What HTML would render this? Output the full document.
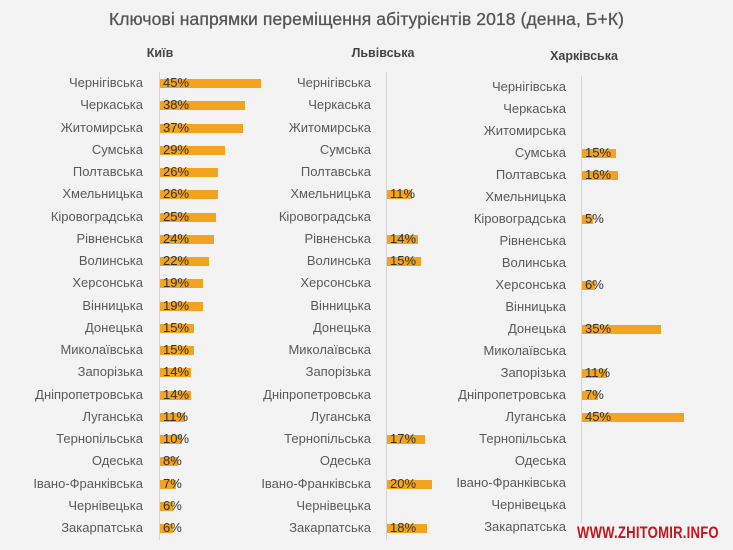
<!DOCTYPE html><html><head><meta charset="utf-8"><style>
body{margin:0;width:733px;height:550px;background:#f3f3f3;position:relative;overflow:hidden;font-family:"Liberation Sans","DejaVu Sans",sans-serif}
.t{position:absolute;left:0;width:733px;top:9px;text-align:center;font-size:17.5px;color:#555;letter-spacing:.1px;-webkit-text-stroke:.3px #555}
.h{position:absolute;font-size:12.5px;font-weight:bold;color:#444;transform:translateX(-50%)}
.r{position:absolute;left:0;height:22px;line-height:22px;font-size:13px;color:#5a5a5a;white-space:nowrap}
.l{position:absolute;right:0;text-align:right}
.b{position:absolute;top:7px;height:9px;background:#f2a31f}
.v{position:absolute;top:0;font-size:13px;color:#333;line-height:22px}
.ax{position:absolute;width:1px;background:#d6d6d6}
.wm{position:absolute;left:577px;top:523px;font-size:17px;font-weight:bold;color:#c4161c;transform:scaleX(.77);transform-origin:left;background:#f3f3f3;letter-spacing:.3px}
</style></head><body>
<div class="t">Ключові напрямки переміщення абітурієнтів 2018 (денна, Б+К)</div>
<div class="h" style="left:160px;top:46px">Київ</div>
<div class="h" style="left:383px;top:46px">Львівська</div>
<div class="h" style="left:584px;top:49px">Харківська</div>
<div class="ax" style="left:159px;top:72px;height:468px"></div>
<div class="ax" style="left:386px;top:72px;height:468px"></div>
<div class="ax" style="left:581px;top:76px;height:462px"></div>

<div class="r" style="top:72px;width:143px"><span class="l">Чернігівська</span><div class="b" style="left:160px;width:101px"></div><span class="v" style="left:163px">45%</span></div>
<div class="r" style="top:94.25px;width:143px"><span class="l">Черкаська</span><div class="b" style="left:160px;width:85px"></div><span class="v" style="left:163px">38%</span></div>
<div class="r" style="top:116.5px;width:143px"><span class="l">Житомирська</span><div class="b" style="left:160px;width:83px"></div><span class="v" style="left:163px">37%</span></div>
<div class="r" style="top:138.75px;width:143px"><span class="l">Сумська</span><div class="b" style="left:160px;width:65px"></div><span class="v" style="left:163px">29%</span></div>
<div class="r" style="top:161px;width:143px"><span class="l">Полтавська</span><div class="b" style="left:160px;width:58px"></div><span class="v" style="left:163px">26%</span></div>
<div class="r" style="top:183.25px;width:143px"><span class="l">Хмельницька</span><div class="b" style="left:160px;width:58px"></div><span class="v" style="left:163px">26%</span></div>
<div class="r" style="top:205.5px;width:143px"><span class="l">Кіровоградська</span><div class="b" style="left:160px;width:56px"></div><span class="v" style="left:163px">25%</span></div>
<div class="r" style="top:227.75px;width:143px"><span class="l">Рівненська</span><div class="b" style="left:160px;width:54px"></div><span class="v" style="left:163px">24%</span></div>
<div class="r" style="top:250px;width:143px"><span class="l">Волинська</span><div class="b" style="left:160px;width:49px"></div><span class="v" style="left:163px">22%</span></div>
<div class="r" style="top:272.25px;width:143px"><span class="l">Херсонська</span><div class="b" style="left:160px;width:43px"></div><span class="v" style="left:163px">19%</span></div>
<div class="r" style="top:294.5px;width:143px"><span class="l">Вінницька</span><div class="b" style="left:160px;width:43px"></div><span class="v" style="left:163px">19%</span></div>
<div class="r" style="top:316.75px;width:143px"><span class="l">Донецька</span><div class="b" style="left:160px;width:34px"></div><span class="v" style="left:163px">15%</span></div>
<div class="r" style="top:339px;width:143px"><span class="l">Миколаївська</span><div class="b" style="left:160px;width:34px"></div><span class="v" style="left:163px">15%</span></div>
<div class="r" style="top:361.25px;width:143px"><span class="l">Запорізька</span><div class="b" style="left:160px;width:31px"></div><span class="v" style="left:163px">14%</span></div>
<div class="r" style="top:383.5px;width:143px"><span class="l">Дніпропетровська</span><div class="b" style="left:160px;width:31px"></div><span class="v" style="left:163px">14%</span></div>
<div class="r" style="top:405.75px;width:143px"><span class="l">Луганська</span><div class="b" style="left:160px;width:25px"></div><span class="v" style="left:163px">11%</span></div>
<div class="r" style="top:428px;width:143px"><span class="l">Тернопільська</span><div class="b" style="left:160px;width:22px"></div><span class="v" style="left:163px">10%</span></div>
<div class="r" style="top:450.25px;width:143px"><span class="l">Одеська</span><div class="b" style="left:160px;width:18px"></div><span class="v" style="left:163px">8%</span></div>
<div class="r" style="top:472.5px;width:143px"><span class="l">Івано-Франківська</span><div class="b" style="left:160px;width:16px"></div><span class="v" style="left:163px">7%</span></div>
<div class="r" style="top:494.75px;width:143px"><span class="l">Чернівецька</span><div class="b" style="left:160px;width:13px"></div><span class="v" style="left:163px">6%</span></div>
<div class="r" style="top:517px;width:143px"><span class="l">Закарпатська</span><div class="b" style="left:160px;width:13px"></div><span class="v" style="left:163px">6%</span></div>

<div class="r" style="top:72px;width:371px"><span class="l">Чернігівська</span></div>
<div class="r" style="top:94.25px;width:371px"><span class="l">Черкаська</span></div>
<div class="r" style="top:116.5px;width:371px"><span class="l">Житомирська</span></div>
<div class="r" style="top:138.75px;width:371px"><span class="l">Сумська</span></div>
<div class="r" style="top:161px;width:371px"><span class="l">Полтавська</span></div>
<div class="r" style="top:183.25px;width:371px"><span class="l">Хмельницька</span><div class="b" style="left:387px;width:25px"></div><span class="v" style="left:390px">11%</span></div>
<div class="r" style="top:205.5px;width:371px"><span class="l">Кіровоградська</span></div>
<div class="r" style="top:227.75px;width:371px"><span class="l">Рівненська</span><div class="b" style="left:387px;width:31px"></div><span class="v" style="left:390px">14%</span></div>
<div class="r" style="top:250px;width:371px"><span class="l">Волинська</span><div class="b" style="left:387px;width:34px"></div><span class="v" style="left:390px">15%</span></div>
<div class="r" style="top:272.25px;width:371px"><span class="l">Херсонська</span></div>
<div class="r" style="top:294.5px;width:371px"><span class="l">Вінницька</span></div>
<div class="r" style="top:316.75px;width:371px"><span class="l">Донецька</span></div>
<div class="r" style="top:339px;width:371px"><span class="l">Миколаївська</span></div>
<div class="r" style="top:361.25px;width:371px"><span class="l">Запорізька</span></div>
<div class="r" style="top:383.5px;width:371px"><span class="l">Дніпропетровська</span></div>
<div class="r" style="top:405.75px;width:371px"><span class="l">Луганська</span></div>
<div class="r" style="top:428px;width:371px"><span class="l">Тернопільська</span><div class="b" style="left:387px;width:38px"></div><span class="v" style="left:390px">17%</span></div>
<div class="r" style="top:450.25px;width:371px"><span class="l">Одеська</span></div>
<div class="r" style="top:472.5px;width:371px"><span class="l">Івано-Франківська</span><div class="b" style="left:387px;width:45px"></div><span class="v" style="left:390px">20%</span></div>
<div class="r" style="top:494.75px;width:371px"><span class="l">Чернівецька</span></div>
<div class="r" style="top:517px;width:371px"><span class="l">Закарпатська</span><div class="b" style="left:387px;width:40px"></div><span class="v" style="left:390px">18%</span></div>

<div class="r" style="top:76px;width:566px"><span class="l">Чернігівська</span></div>
<div class="r" style="top:98px;width:566px"><span class="l">Черкаська</span></div>
<div class="r" style="top:120px;width:566px"><span class="l">Житомирська</span></div>
<div class="r" style="top:142px;width:566px"><span class="l">Сумська</span><div class="b" style="left:582px;width:34px"></div><span class="v" style="left:585px">15%</span></div>
<div class="r" style="top:164px;width:566px"><span class="l">Полтавська</span><div class="b" style="left:582px;width:36px"></div><span class="v" style="left:585px">16%</span></div>
<div class="r" style="top:186px;width:566px"><span class="l">Хмельницька</span></div>
<div class="r" style="top:208px;width:566px"><span class="l">Кіровоградська</span><div class="b" style="left:582px;width:11px"></div><span class="v" style="left:585px">5%</span></div>
<div class="r" style="top:230px;width:566px"><span class="l">Рівненська</span></div>
<div class="r" style="top:252px;width:566px"><span class="l">Волинська</span></div>
<div class="r" style="top:274px;width:566px"><span class="l">Херсонська</span><div class="b" style="left:582px;width:13px"></div><span class="v" style="left:585px">6%</span></div>
<div class="r" style="top:296px;width:566px"><span class="l">Вінницька</span></div>
<div class="r" style="top:318px;width:566px"><span class="l">Донецька</span><div class="b" style="left:582px;width:79px"></div><span class="v" style="left:585px">35%</span></div>
<div class="r" style="top:340px;width:566px"><span class="l">Миколаївська</span></div>
<div class="r" style="top:362px;width:566px"><span class="l">Запорізька</span><div class="b" style="left:582px;width:25px"></div><span class="v" style="left:585px">11%</span></div>
<div class="r" style="top:384px;width:566px"><span class="l">Дніпропетровська</span><div class="b" style="left:582px;width:16px"></div><span class="v" style="left:585px">7%</span></div>
<div class="r" style="top:406px;width:566px"><span class="l">Луганська</span><div class="b" style="left:582px;width:102px"></div><span class="v" style="left:585px">45%</span></div>
<div class="r" style="top:428px;width:566px"><span class="l">Тернопільська</span></div>
<div class="r" style="top:450px;width:566px"><span class="l">Одеська</span></div>
<div class="r" style="top:472px;width:566px"><span class="l">Івано-Франківська</span></div>
<div class="r" style="top:494px;width:566px"><span class="l">Чернівецька</span></div>
<div class="r" style="top:516px;width:566px"><span class="l">Закарпатська</span></div>

<div class="wm">WWW.ZHITOMIR.INFO</div>
</body></html>
